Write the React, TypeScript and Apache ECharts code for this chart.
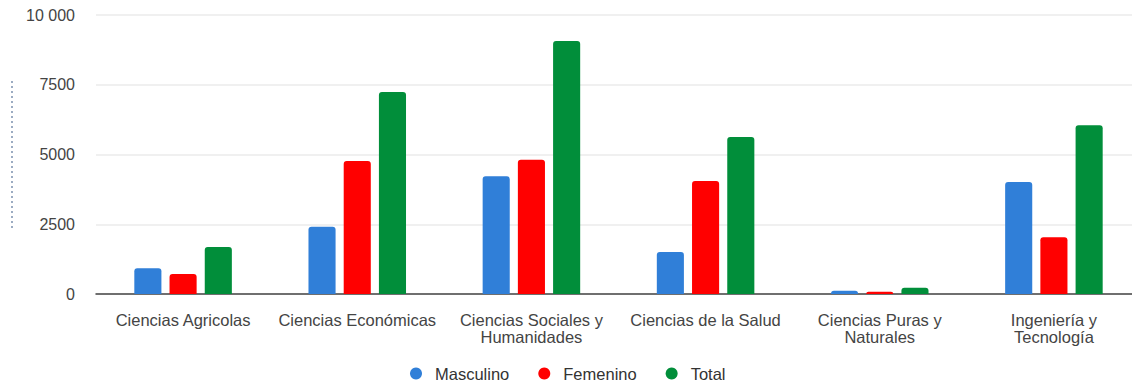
import React, { useEffect, useRef } from "react";
import * as echarts from "echarts";

const categories = [
  "Ciencias Agricolas",
  "Ciencias Económicas",
  "Ciencias Sociales y\nHumanidades",
  "Ciencias de la Salud",
  "Ciencias Puras y\nNaturales",
  "Ingeniería y\nTecnología",
];
const masculino = [920, 2410, 4220, 1505, 118, 4015];
const femenino = [717, 4767, 4814, 4050, 82, 2032];
const total = [1685, 7240, 9068, 5627, 226, 6046];
const seriesNames = ["Masculino", "Femenino", "Total"];
const colors = ["#307FD8", "#FF0000", "#018E3A"];

export default function App() {
  const ref = useRef<HTMLDivElement>(null);
  useEffect(() => {
    if (!ref.current) return;
    const chart = echarts.init(ref.current, undefined, { renderer: "svg" });
    const font = "'Liberation Sans', Arial, sans-serif";
    const mk = (name: string, data: number[], color: string) => ({
      name,
      type: "bar",
      data,
      barGap: "30%",
      barCategoryGap: "44%",
      itemStyle: { color, borderRadius: [3, 3, 0, 0] },
    });
    chart.setOption({
      animation: false,
      textStyle: { fontFamily: font },
      grid: { left: 96, right: 0, top: 15, bottom: 89 },
      legend: {
        top: 365,
        left: 410,
        padding: 0,
        icon: "circle",
        itemWidth: 12,
        itemHeight: 12,
        itemGap: 29,
        data: seriesNames,
        textStyle: { fontSize: 16.5, color: "#333", fontFamily: font, padding: [0, 0, 0, 8] },
      },
      xAxis: {
        type: "category",
        data: categories,
        axisTick: { show: false },
        axisLine: { lineStyle: { color: "#444", width: 1.5 } },
        axisLabel: {
          color: "#444",
          fontSize: 16.5,
          fontFamily: font,
          margin: 17,
          lineHeight: 17,
          interval: 0,
        },
      },
      yAxis: {
        type: "value",
        min: 0,
        max: 10000,
        interval: 2500,
        axisLine: { show: false },
        axisTick: { show: false },
        splitLine: { lineStyle: { color: "#EBEBEB", width: 1.5 } },
        axisLabel: {
          color: "#444",
          fontSize: 16,
          fontFamily: font,
          margin: 21,
          formatter: (v: number) => (v >= 10000 ? "10 000" : String(v)),
        },
      },
      graphic: [
        {
          type: "line",
          shape: { x1: 12, y1: 81, x2: 12, y2: 228 },
          style: { stroke: "#5A7599", lineWidth: 1.2, lineDash: [2, 3] },
        },
      ],
      series: [
        mk(seriesNames[0], masculino, colors[0]),
        mk(seriesNames[1], femenino, colors[1]),
        mk(seriesNames[2], total, colors[2]),
      ],
    });
    return () => chart.dispose();
  }, []);
  return (
    <div
      style={{
        position: "absolute",
        left: 0,
        top: 0,
        width: 1132,
        height: 383,
        overflow: "hidden",
      }}
    >
      <div ref={ref} style={{ width: 1141, height: 383 }} />
    </div>
  );
}
